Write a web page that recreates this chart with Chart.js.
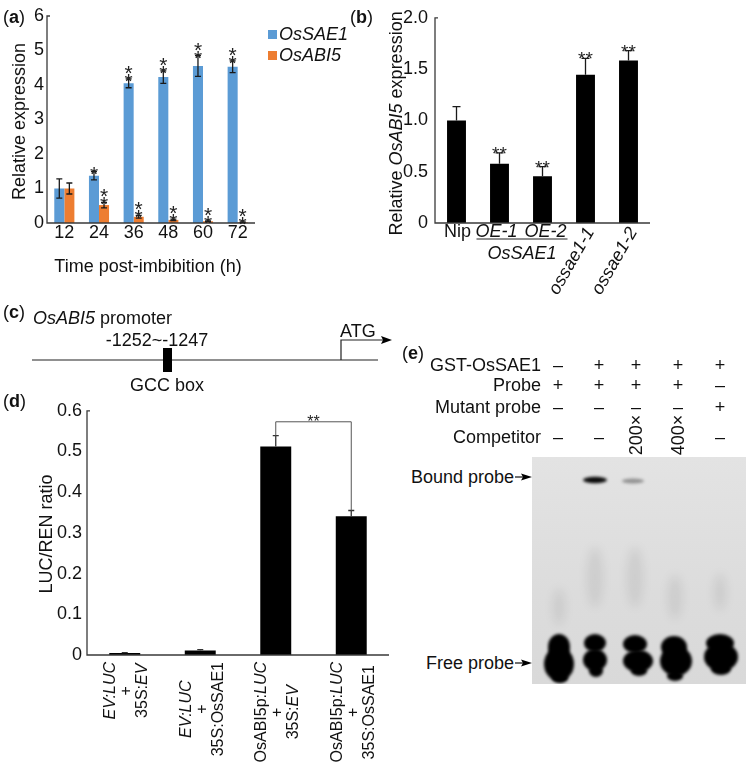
<!DOCTYPE html>
<html>
<head>
<meta charset="utf-8">
<script src="https://cdn.jsdelivr.net/npm/chart.js@4.4.1/dist/chart.umd.min.js"></script>
<style>
body { margin: 0; background: #fff; }
#page { position: relative; width: 750px; height: 776px; overflow: hidden; font-family: "Liberation Sans", Arial, sans-serif; color: #111; }
canvas { position: absolute; }
.t { position: absolute; font-size: 18px; white-space: nowrap; line-height: 1; transform: translateY(-50%); }
.r { transform: translate(-100%, -50%); }
.c { transform: translate(-50%, -50%); }
.v { transform: translate(-50%, -50%) rotate(-90deg); }
</style>
</head>
<body>
<div id="page">
  <canvas id="ca" width="375" height="290" style="left:0;top:0"></canvas>
  <canvas id="cb" width="340" height="310" style="left:340px;top:0"></canvas>
  <canvas id="cc" width="460" height="110" style="left:0;top:290px"></canvas>
  <canvas id="cd" width="400" height="381" style="left:0;top:395px"></canvas>
  <canvas id="gel" width="214" height="227" style="left:532px;top:457px"></canvas>

  <div class="t" style="left:3px;top:17px">(<b>a</b>)</div>
  <div class="t" style="left:350px;top:17px">(<b>b</b>)</div>
  <div class="t" style="left:3px;top:312px">(<b>c</b>)</div>
  <div class="t" style="left:3px;top:401px">(<b>d</b>)</div>
  <div class="t" style="left:402px;top:353px">(<b>e</b>)</div>

  <div class="t" style="left:33px;top:318px"><i>OsABI5</i> promoter</div>
  <div class="t c" style="left:157px;top:340px">-1252~-1247</div>
  <div class="t c" style="left:167px;top:385px">GCC box</div>
  <div class="t" style="left:340px;top:331px">ATG</div>

  <div class="t r" style="left:541px;top:365px">GST-OsSAE1</div>
  <div class="t r" style="left:541px;top:385px">Probe</div>
  <div class="t r" style="left:541px;top:407px">Mutant probe</div>
  <div class="t r" style="left:541px;top:437px">Competitor</div>
  <div id="signs"></div>
  <div class="t r" style="left:514px;top:477px">Bound probe</div>
  <div class="t r" style="left:514px;top:663px">Free probe</div>
</div>

<script>
var FF = '"Liberation Sans", Arial, sans-serif';
Chart.defaults.font.family = FF;
Chart.defaults.color = "#111";

// (a) time course
var hours = ["12", "24", "36", "48", "60", "72"];
var sae1 = [1.0, 1.37, 4.05, 4.23, 4.55, 4.53];
var sae1Err = [0.28, 0.12, 0.13, 0.18, 0.3, 0.17];
var abi5 = [1.0, 0.52, 0.18, 0.09, 0.05, 0.02];
var abi5Err = [0.16, 0.08, 0.04, 0.02, 0.01, 0.01];
var sae1Sig = ["", "*", "**", "**", "**", "**"];
var abi5Sig = ["", "**", "**", "**", "**", "**"];

// (b) lines
var lines = ["Nip", "OE-1", "OE-2", "ossae1-1", "ossae1-2"];
var lineGroup = "OsSAE1";
var abiRel = [1.0, 0.578, 0.455, 1.445, 1.585];
var abiRelErr = [0.135, 0.105, 0.095, 0.16, 0.095];
var abiRelSig = ["", "**", "**", "**", "**"];

// (d) LUC/REN
var lucLabels = [
  ["<i>EV:LUC</i>", "+", "35S:<i>EV</i>"],
  ["<i>EV:LUC</i>", "+", "35S:OsSAE1"],
  ["OsABI5p:<i>LUC</i>", "+", "35S:<i>EV</i>"],
  ["OsABI5p:<i>LUC</i>", "+", "35S:OsSAE1"]
];
var lucRatio = [0.005, 0.011, 0.512, 0.341];
var lucErr = [0.001, 0.002, 0.027, 0.014];
var lucPair = [2, 3];
var lucPairSig = "**";

// (e) EMSA table
var emsaRows = [
  ["–", "+", "+", "+", "+"],
  ["+", "+", "+", "+", "–"],
  ["–", "–", "–", "–", "+"],
  ["–", "–", "200×", "400×", "–"]
];

function parseRich(s) {
  return s.split(/(<i>.*?<\/i>)/).filter(Boolean).map(function (p) {
    var it = p.indexOf("<i>") === 0;
    return { text: it ? p.slice(3, -4) : p, italic: it };
  });
}

function richWidth(ctx, s, size) {
  var w = 0;
  parseRich(s).forEach(function (g) {
    ctx.font = (g.italic ? "italic " : "") + size + "px " + FF;
    w += ctx.measureText(g.text).width;
  });
  return w;
}

function drawRich(ctx, s, x, y, size, align) {
  var w = richWidth(ctx, s, size);
  var sx = align === "center" ? x - w / 2 : (align === "right" ? x - w : x);
  ctx.textAlign = "left";
  ctx.textBaseline = "middle";
  parseRich(s).forEach(function (g) {
    ctx.font = (g.italic ? "italic " : "") + size + "px " + FF;
    ctx.fillText(g.text, sx, y);
    sx += ctx.measureText(g.text).width;
  });
}

function vertText(ctx, s, x, y, size) {
  ctx.save();
  ctx.translate(x, y);
  ctx.rotate(-Math.PI / 2);
  drawRich(ctx, s, 0, 0, size, "center");
  ctx.restore();
}

var errorBars = {
  id: "errorBars",
  afterDatasetsDraw: function (chart, args, opts) {
    var ctx = chart.ctx, y = chart.scales.y, a = chart.chartArea;
    // axis lines
    ctx.save();
    ctx.strokeStyle = "#3a3a3a";
    ctx.lineWidth = 1.3;
    ctx.beginPath();
    ctx.moveTo(a.left + 3, a.top); ctx.lineTo(a.left, a.top);
    ctx.lineTo(a.left, a.bottom); ctx.lineTo(a.right, a.bottom);
    ctx.stroke();
    ctx.restore();
    chart.data.datasets.forEach(function (ds, i) {
      chart.getDatasetMeta(i).data.forEach(function (bar, j) {
        var v = ds.data[j], e = ds.err[j];
        var top = y.getPixelForValue(v + e);
        var bot = opts.both ? y.getPixelForValue(v - e) : bar.y;
        ctx.save();
        ctx.strokeStyle = opts.color;
        ctx.lineWidth = 1.3;
        ctx.beginPath();
        ctx.moveTo(bar.x, top); ctx.lineTo(bar.x, bot);
        ctx.moveTo(bar.x - opts.cap, top); ctx.lineTo(bar.x + opts.cap, top);
        if (opts.both) { ctx.moveTo(bar.x - opts.cap, bot); ctx.lineTo(bar.x + opts.cap, bot); }
        ctx.stroke();
        var s = ds.sig ? ds.sig[j] : "";
        if (s) {
          ctx.fillStyle = "#222";
          ctx.textAlign = "center";
          ctx.textBaseline = "alphabetic";
          if (opts.stack) {
            ctx.font = "21px " + FF;
            for (var k = 0; k < s.length; k++) ctx.fillText("*", bar.x, top + 9 - k * 8);
          } else {
            ctx.font = "19px " + FF;
            ctx.fillText(s, bar.x, top + 7);
          }
        }
        ctx.restore();
      });
    });
  }
};

function fixY(w) { return function (s) { s.width = w; }; }
function fixX(h) { return function (s) { s.height = h; }; }
function tickFmt(v) { return v === 0 ? "0" : v.toFixed(1); }
var noGrid = { display: false, drawTicks: false };

// ---------- (a)
new Chart(document.getElementById("ca"), {
  type: "bar",
  data: {
    labels: hours,
    datasets: [
      { label: "OsSAE1", data: sae1, err: sae1Err, sig: sae1Sig, backgroundColor: "#5b9bd5" },
      { label: "OsABI5", data: abi5, err: abi5Err, sig: abi5Sig, backgroundColor: "#ed7d31" }
    ]
  },
  options: {
    responsive: false, animation: false, devicePixelRatio: 1,
    layout: { padding: { left: 0, top: 16, right: 120, bottom: 0 } },
    categoryPercentage: 0.58, barPercentage: 1,
    plugins: { legend: { display: false }, tooltip: { enabled: false },
      errorBars: { both: true, cap: 3, color: "#1a1a1a", stack: true } },
    scales: {
      x: { grid: noGrid, border: { display: false },
        ticks: { font: { size: 18 }, color: "#111", padding: -1, maxRotation: 0 }, afterFit: fixX(67) },
      y: { min: 0, max: 6, grid: noGrid, border: { display: false },
        ticks: { stepSize: 1, font: { size: 18 }, color: "#111", padding: 3 }, afterFit: fixY(47) }
    }
  },
  plugins: [errorBars, {
    id: "decorA",
    afterDraw: function (chart) {
      var ctx = chart.ctx, a = chart.chartArea;
      ctx.save();
      ctx.fillStyle = "#111";
      vertText(ctx, "Relative expression", 20, (a.top + a.bottom) / 2 + 2, 18);
      drawRich(ctx, "Time post-imbibition (h)", 148, 267, 18, "center");
      chart.data.datasets.forEach(function (ds, i) {
        var yy = 34 + i * 21;
        ctx.fillStyle = ds.backgroundColor;
        ctx.fillRect(268, yy - 4, 9, 9);
        ctx.fillStyle = "#111";
        drawRich(ctx, "<i>" + ds.label + "</i>", 279, yy + 1, 18, "left");
      });
      ctx.restore();
    }
  }]
});

// ---------- (b)
new Chart(document.getElementById("cb"), {
  type: "bar",
  data: {
    labels: lines,
    datasets: [{ data: abiRel, err: abiRelErr, sig: abiRelSig, backgroundColor: "#000" }]
  },
  options: {
    responsive: false, animation: false, devicePixelRatio: 1,
    layout: { padding: { left: 0, top: 17, right: 30, bottom: 0 } },
    categoryPercentage: 1, barPercentage: 0.44,
    plugins: { legend: { display: false }, tooltip: { enabled: false },
      errorBars: { both: false, cap: 4, color: "#1a1a1a", stack: false } },
    scales: {
      x: { grid: noGrid, border: { display: false }, ticks: { display: false }, afterFit: fixX(87) },
      y: { min: 0, max: 2, grid: noGrid, border: { display: false },
        ticks: { stepSize: 0.5, font: { size: 18 }, color: "#111", padding: 7, callback: tickFmt }, afterFit: fixY(95) }
    }
  },
  plugins: [errorBars, {
    id: "decorB",
    afterDraw: function (chart) {
      var ctx = chart.ctx, a = chart.chartArea, x = chart.scales.x;
      ctx.save();
      ctx.fillStyle = "#111";
      vertText(ctx, "Relative <i>OsABI5</i> expression", 57, (a.top + a.bottom) / 2 + 3, 18);
      var ly = a.bottom + 9;
      drawRich(ctx, lines[0], x.getPixelForValue(0) + 1, ly, 18, "center");
      drawRich(ctx, "<i>" + lines[1] + "</i>", x.getPixelForValue(1) - 3, ly, 18, "center");
      drawRich(ctx, "<i>" + lines[2] + "</i>", x.getPixelForValue(2) + 3, ly, 18, "center");
      var g0 = x.getPixelForValue(1) - 23, g1 = x.getPixelForValue(2) + 25;
      ctx.strokeStyle = "#222";
      ctx.lineWidth = 1.2;
      ctx.beginPath(); ctx.moveTo(g0, ly + 7); ctx.lineTo(g1, ly + 7); ctx.stroke();
      drawRich(ctx, "<i>" + lineGroup + "</i>", (g0 + g1) / 2, ly + 22, 18, "center");
      for (var i = 3; i < lines.length; i++) {
        ctx.save();
        ctx.translate(x.getPixelForValue(i) + 5, a.bottom + 6);
        ctx.rotate(-60 * Math.PI / 180);
        drawRich(ctx, "<i>" + lines[i] + "</i>", 0, 0, 18, "right");
        ctx.restore();
      }
      ctx.restore();
    }
  }]
});

// ---------- (d)
new Chart(document.getElementById("cd"), {
  type: "bar",
  data: {
    labels: lucLabels.map(function (l) { return l.join(" "); }),
    datasets: [{ data: lucRatio, err: lucErr, backgroundColor: "#000" }]
  },
  options: {
    responsive: false, animation: false, devicePixelRatio: 1,
    layout: { padding: { left: 0, top: 13, right: 11, bottom: 0 } },
    categoryPercentage: 1, barPercentage: 0.41,
    plugins: { legend: { display: false }, tooltip: { enabled: false },
      errorBars: { both: false, cap: 3, color: "#333", stack: false } },
    scales: {
      x: { grid: noGrid, border: { display: false }, ticks: { display: false }, afterFit: fixX(121) },
      y: { min: 0, max: 0.6, grid: noGrid, border: { display: false },
        ticks: { stepSize: 0.1, font: { size: 18 }, color: "#111", padding: 5, callback: tickFmt }, afterFit: fixY(87) }
    }
  },
  plugins: [errorBars, {
    id: "decorD",
    afterDraw: function (chart) {
      var ctx = chart.ctx, a = chart.chartArea, x = chart.scales.x, y = chart.scales.y;
      ctx.save();
      ctx.fillStyle = "#111";
      vertText(ctx, "LUC/REN ratio", 47, (a.top + a.bottom) / 2 + 1, 18);
      lucLabels.forEach(function (lab, i) {
        var cx = x.getPixelForValue(i) + 1;
        var mw = 0;
        lab.forEach(function (s) { mw = Math.max(mw, richWidth(ctx, s, 16)); });
        var yc = a.bottom + 7 + mw / 2;
        vertText(ctx, lab[0], cx - 15, yc, 16);
        vertText(ctx, lab[1], cx + 1, yc, 16);
        vertText(ctx, lab[2], cx + 17, yc, 16);
      });
      // significance bracket
      var p = lucPair, xa = x.getPixelForValue(p[0]), xb = x.getPixelForValue(p[1]);
      var hy = y.getPixelForValue(0.573);
      ctx.strokeStyle = "#555";
      ctx.lineWidth = 1;
      ctx.beginPath();
      ctx.moveTo(xa, y.getPixelForValue(lucRatio[p[0]] + lucErr[p[0]]));
      ctx.lineTo(xa, hy); ctx.lineTo(xb, hy);
      ctx.lineTo(xb, y.getPixelForValue(lucRatio[p[1]] + lucErr[p[1]]));
      ctx.stroke();
      ctx.font = "16px " + FF;
      ctx.textAlign = "center";
      ctx.textBaseline = "alphabetic";
      ctx.fillStyle = "#222";
      ctx.fillText(lucPairSig, (xa + xb) / 2, hy + 5);
      ctx.restore();
    }
  }]
});

// ---------- (c) promoter diagram
(function () {
  var ctx = document.getElementById("cc").getContext("2d");
  ctx.translate(0, -290);
  ctx.strokeStyle = "#222";
  ctx.lineWidth = 1.2;
  ctx.beginPath();
  ctx.moveTo(32, 360); ctx.lineTo(378, 360);
  ctx.moveTo(341, 360); ctx.lineTo(341, 340); ctx.lineTo(384, 340);
  ctx.stroke();
  ctx.fillStyle = "#000";
  ctx.beginPath();
  ctx.moveTo(392, 340); ctx.lineTo(381, 336); ctx.lineTo(383, 340); ctx.lineTo(381, 344); ctx.closePath();
  ctx.fill();
  ctx.fillRect(163, 348, 9, 24);
})();

// ---------- (e) EMSA table and gel
(function () {
  var cols = [558, 599, 636, 678, 720];
  var rowsY = [365, 385, 407, 437];
  var html = "";
  emsaRows.forEach(function (row, r) {
    row.forEach(function (s, c) {
      var cls = s.length > 1 ? "t v" : "t c";
      html += '<div class="' + cls + '" style="left:' + cols[c] + 'px;top:' + (s.length > 1 ? rowsY[r] - 2 : rowsY[r]) + 'px">' + s + "</div>";
    });
  });
  document.getElementById("signs").innerHTML = html;

  var ctx = document.getElementById("gel").getContext("2d");
  var bg = ctx.createLinearGradient(0, 0, 0, 227);
  bg.addColorStop(0, "#e3e3e3");
  bg.addColorStop(0.6, "#dcdcdc");
  bg.addColorStop(1, "#d9d9d9");
  ctx.fillStyle = bg;
  ctx.fillRect(0, 0, 214, 227);

  function blob(x, y, rx, ry, col, blur) {
    ctx.save();
    ctx.filter = "blur(" + blur + "px)";
    ctx.fillStyle = col;
    ctx.beginPath();
    ctx.ellipse(x, y, rx, ry, 0, 0, Math.PI * 2);
    ctx.fill();
    ctx.restore();
  }
  // faint smears
  [[63, 120, 8, 30], [103, 120, 8, 30], [143, 140, 7, 22], [188, 135, 6, 18], [27, 150, 6, 18]].forEach(function (s) {
    blob(s[0], s[1], s[2], s[3], "rgba(0,0,0,0.07)", 5);
  });
  // bound probe
  blob(63, 23, 12, 3.2, "rgba(0,0,0,0.95)", 1.5);
  blob(101, 24, 11, 2.6, "rgba(0,0,0,0.35)", 1.8);
  // free probe
  var fp = [
    [27, 190, 11, 13], [27, 207, 15, 17], [28, 221, 8, 5],
    [63, 186, 11, 9], [63, 203, 12, 11], [64, 214, 7, 6],
    [103, 187, 12, 9], [106, 204, 15, 11], [107, 214, 8, 5],
    [142, 190, 13, 11], [144, 204, 16, 15], [143, 219, 8, 5],
    [188, 186, 14, 9], [189, 200, 17, 14], [189, 212, 10, 6]
  ];
  fp.forEach(function (b) { blob(b[0], b[1], b[2], b[3], "#000", 1.5); });

  // label arrows
  var page = document.getElementById("page");
  var ac = document.createElement("canvas");
  ac.width = 30; ac.height = 220;
  ac.style.left = "510px"; ac.style.top = "465px";
  page.appendChild(ac);
  var g = ac.getContext("2d");
  [12, 198].forEach(function (yy) {
    g.strokeStyle = "#111"; g.lineWidth = 1.2;
    g.beginPath(); g.moveTo(5, yy); g.lineTo(14, yy); g.stroke();
    g.fillStyle = "#000";
    g.beginPath(); g.moveTo(22, yy); g.lineTo(11, yy - 3.5); g.lineTo(13, yy); g.lineTo(11, yy + 3.5); g.closePath(); g.fill();
  });
})();
</script>
</body>
</html>
